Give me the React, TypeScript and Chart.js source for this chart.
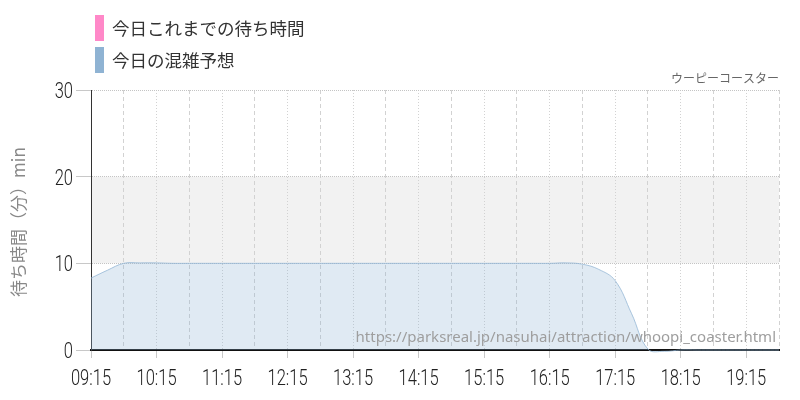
import React, { useEffect, useRef } from 'react';
import { Chart, registerables } from 'chart.js';

Chart.register(...registerables);

// ---- data ----
const TIMES = [
  '09:15', '09:30', '09:45', '10:00', '10:15', '10:30', '10:45', '11:00', '11:15', '11:30', '11:45',
  '12:00', '12:15', '12:30', '12:45', '13:00', '13:15', '13:30', '13:45', '14:00', '14:15', '14:30',
  '14:45', '15:00', '15:15', '15:30', '15:45', '16:00', '16:15', '16:30', '16:45', '17:00', '17:15',
  '17:30', '17:45', '18:00', '18:15', '18:30', '18:45', '19:00', '19:15', '19:30', '19:45',
];
const FORECAST = [
  8.3, 9.2, 10.0, 10.05, 10.05, 10.0, 10.0, 10.0, 10.0, 10.0, 10.0,
  10.0, 10.0, 10.0, 10.0, 10.0, 10.0, 10.0, 10.0, 10.0, 10.0, 10.0,
  10.0, 10.0, 10.0, 10.0, 10.0, 10.0, 10.0, 10.05, 9.9, 9.3, 8.0,
  4.2, 0.1, -0.15, 0, 0, 0, 0, 0, 0, 0,
];
const TODAY: (number | null)[] = [];

const SERIES_LABELS = ['今日これまでの待ち時間', '今日の混雑予想'];
const LEGEND_COLORS = ['#ff88c8', '#8fb3d3'];
const TITLE = 'ウーピーコースター';
const Y_TITLE = '待ち時間（分）min';
const URL_TEXT = 'https://parksreal.jp/nasuhai/attraction/whoopi_coaster.html';
const X_START = '09:15';
const X_END = '19:45';
const Y_MIN = 0;
const Y_MAX = 30;
const Y_STEP = 10;
const BAND = [10, 20];

const toMin = (s: string) => {
  const [h, m] = s.split(':').map(Number);
  return h * 60 + m;
};
const fmt = (v: number) =>
  `${String(Math.floor(v / 60)).padStart(2, '0')}:${String(v % 60).padStart(2, '0')}`;
const isHourTick = (v: number) => (v - toMin(X_START)) % 60 === 0;

const TICK_FONT = '300 22px Roboto';
const TICK_SX = 0.75;
const JP_FONT = '"Noto Sans CJK JP", "Noto Sans", sans-serif';

function condensedText(ctx: CanvasRenderingContext2D, text: string, x: number, y: number, align: CanvasTextAlign) {
  ctx.save();
  ctx.translate(x, y);
  ctx.scale(TICK_SX, 1);
  ctx.font = TICK_FONT;
  ctx.textAlign = align;
  ctx.textBaseline = 'alphabetic';
  ctx.fillText(text, 0, 0);
  ctx.restore();
}

const overlayPlugin = {
  id: 'overlay',
  beforeDraw(chart: any) {
    const { ctx, chartArea: a, scales } = chart;
    const y = scales.y;
    const top = y.getPixelForValue(BAND[1]);
    const bot = y.getPixelForValue(BAND[0]);
    ctx.save();
    ctx.fillStyle = '#f2f2f2';
    ctx.fillRect(a.left, top, a.right - a.left, bot - top);
    ctx.restore();
  },
  afterDraw(chart: any) {
    const { ctx, chartArea: a, scales } = chart;
    const x = scales.x;
    const y = scales.y;
    ctx.save();

    // legend
    chart.data.datasets.forEach((ds: any, i: number) => {
      const top = 15 + i * 32;
      ctx.fillStyle = LEGEND_COLORS[i];
      ctx.fillRect(95, top, 9, 26);
      ctx.fillStyle = '#333';
      ctx.font = `17.5px ${JP_FONT}`;
      ctx.textAlign = 'left';
      ctx.textBaseline = 'middle';
      ctx.fillText(ds.label, 112, top + 13);
    });

    // title (top right)
    ctx.fillStyle = '#666';
    ctx.font = `12px ${JP_FONT}`;
    ctx.textAlign = 'right';
    ctx.textBaseline = 'middle';
    ctx.fillText(TITLE, a.right, 78);

    // y axis title
    ctx.save();
    ctx.translate(19, (a.top + a.bottom) / 2 + 2);
    ctx.rotate(-Math.PI / 2);
    ctx.fillStyle = '#888';
    ctx.font = `17px ${JP_FONT}`;
    ctx.textAlign = 'center';
    ctx.textBaseline = 'middle';
    ctx.fillText(Y_TITLE, 0, 0);
    ctx.restore();

    // tick labels
    ctx.fillStyle = '#222';
    y.ticks.forEach((t: any) => {
      const py = y.getPixelForValue(t.value);
      condensedText(ctx, String(t.value), 73, py + 8, 'right');
    });
    x.ticks.forEach((t: any) => {
      if (!isHourTick(t.value)) return;
      const px = x.getPixelForValue(t.value);
      condensedText(ctx, fmt(t.value), px, 385, 'center');
    });

    // url
    ctx.fillStyle = '#9e9e9e';
    ctx.font = '15px "Noto Sans", sans-serif';
    ctx.textAlign = 'right';
    ctx.textBaseline = 'alphabetic';
    ctx.fillText(URL_TEXT, a.right - 3, a.bottom - 8);

    ctx.restore();
  },
};

export default function App() {
  const ref = useRef<HTMLCanvasElement | null>(null);

  useEffect(() => {
    document.body.style.margin = '0';
    if (!ref.current) return;
    const chart = new Chart(ref.current, {
      type: 'line',
      data: {
        datasets: [
          {
            label: SERIES_LABELS[0],
            data: TODAY.map((v, i) => ({ x: toMin(TIMES[i]), y: v })),
            borderColor: LEGEND_COLORS[0],
            backgroundColor: LEGEND_COLORS[0],
            pointRadius: 0,
          },
          {
            label: SERIES_LABELS[1],
            data: FORECAST.map((v, i) => ({ x: toMin(TIMES[i]), y: v })),
            borderColor: 'rgba(143,179,211,0.75)',
            backgroundColor: 'rgba(143,179,211,0.28)',
            borderWidth: 1,
            fill: 'origin',
            tension: 0.4,
            pointRadius: 0,
            clip: false,
          },
        ],
      },
      options: {
        animation: false,
        responsive: true,
        maintainAspectRatio: false,
        layout: { padding: { top: 90, right: 21, left: 0, bottom: 0 } },
        plugins: {
          legend: { display: false },
          title: { display: false },
          tooltip: { enabled: false },
        },
        scales: {
          x: {
            type: 'linear',
            min: toMin(X_START),
            max: toMin(X_END),
            ticks: { display: false, stepSize: 30 },
            afterFit: (s: any) => {
              s.height = 50;
            },
            grid: {
              color: '#d2d2d2',
              lineWidth: 1,
              tickLength: 8,
              tickColor: (c: any) => (c.tick && isHourTick(c.tick.value) ? '#c8c8c8' : 'rgba(0,0,0,0)'),
            },
            border: {
              color: '#111',
              width: 2,
              dash: (c: any) => (c.tick && isHourTick(c.tick.value) ? [1, 2] : [4, 3]),
            },
          },
          y: {
            min: Y_MIN,
            max: Y_MAX,
            ticks: { display: false, stepSize: Y_STEP },
            afterFit: (s: any) => {
              s.width = 91;
            },
            grid: {
              color: '#c4c4c4',
              tickLength: 15,
              tickColor: '#c8c8c8',
              tickBorderDash: [],
            },
            border: { color: '#333', width: 1, dash: [1, 1] },
          },
        },
      },
      plugins: [overlayPlugin],
    });
    return () => chart.destroy();
  }, []);

  return (
    <div style={{ position: 'relative', width: 800, height: 400 }}>
      <canvas ref={ref} />
    </div>
  );
}
